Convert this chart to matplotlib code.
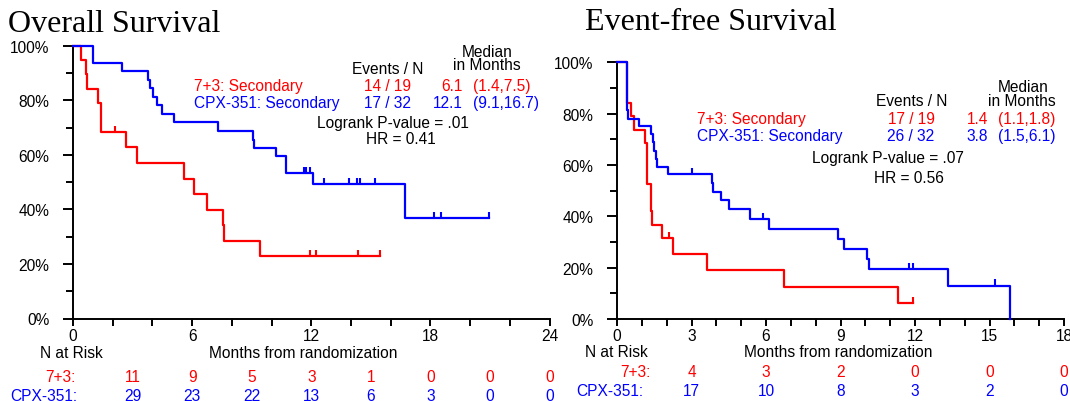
import numpy as np
import matplotlib
matplotlib.use("Agg")
import matplotlib.pyplot as plt
from matplotlib.ticker import MultipleLocator, FuncFormatter
from matplotlib.transforms import blended_transform_factory

W, H = 1070, 402
RED = "#ff0000"
BLUE = "#0000ff"

# Overall survival: step times (months) and survival (%)
os_red_t = [0, 0.40, 0.66, 0.72, 1.25, 1.41, 2.66, 3.23, 5.58, 6.07, 6.77, 7.55, 7.61, 9.40]
os_red_s = [100, 94.7, 89.5, 84.2, 78.9, 68.4, 62.7, 57.0, 51.3, 45.6, 39.9, 34.2, 28.5, 22.8]
os_red_cens = [2.12, 11.92, 12.24, 14.36, 15.48]

os_blue_t = [0, 0.99, 2.49, 3.77, 3.88, 4.02, 4.22, 4.50, 5.09, 7.31, 9.09, 9.14, 10.20, 10.72, 12.08, 16.71]
os_blue_s = [100, 93.8, 90.6, 87.5, 84.4, 81.3, 78.1, 75.0, 71.9, 68.8, 65.6, 62.5, 59.4, 53.4, 49.2, 36.9]
os_blue_cens = [11.61, 11.75, 11.92, 12.66, 13.88, 14.31, 14.47, 15.23, 18.20, 18.51, 20.94]

# Event-free survival
efs_red_t = [0, 0.39, 0.41, 0.55, 0.70, 1.13, 1.20, 1.37, 1.42, 1.80, 2.24, 3.64, 6.74, 11.30]
efs_red_s = [100, 94.7, 84.2, 78.9, 73.7, 68.4, 52.6, 42.1, 36.8, 31.6, 25.3, 18.9, 12.6, 6.3]
efs_red_cens = [2.08, 11.91]

efs_blue_t = [0, 0.40, 0.45, 0.90, 1.35, 1.46, 1.50, 1.56, 1.60, 2.04, 3.82, 3.88, 4.19, 4.51,
              5.36, 6.11, 8.89, 9.13, 10.05, 10.16, 13.33, 15.83]
efs_blue_s = [100, 81.3, 78.1, 75.0, 71.9, 68.8, 65.6, 62.5, 59.4, 56.3, 52.9, 49.6, 46.3, 43.0,
              39.0, 35.0, 31.1, 27.2, 23.3, 19.5, 13.0, 0.0]
efs_blue_cens = [3.01, 5.89, 11.76, 11.91, 15.22]

# numbers at risk
os_risk_t = [3, 6, 9, 12, 15, 18, 21, 24]
os_risk_red = [11, 9, 5, 3, 1, 0, 0, 0]
os_risk_blue = [29, 23, 22, 13, 6, 3, 0, 0]
efs_risk_t = [3, 6, 9, 12, 15, 18]
efs_risk_red = [4, 3, 2, 0, 0, 0]
efs_risk_blue = [17, 10, 8, 3, 2, 0]

arms = ["7+3: Secondary", "CPX-351: Secondary"]
os_events = ["14 / 19", "17 / 32"]
os_median = ["6.1", "12.1"]
os_ci = ["(1.4,7.5)", "(9.1,16.7)"]
efs_events = ["17 / 19", "26 / 32"]
efs_median = ["1.4", "3.8"]
efs_ci = ["(1.1,1.8)", "(1.5,6.1)"]

SANS = "Liberation Sans"
FS = 11.2

fig = plt.figure(figsize=(W / 100, H / 100), dpi=100)
fig.patch.set_facecolor("white")


def put(x, y, s, **kw):
    kw.setdefault("fontsize", FS)
    kw.setdefault("family", SANS)
    kw.setdefault("va", "center")
    fig.text(x / W, 1 - y / H, s, **kw)


def make_axes(x0, x1, ytop, ybot, xmax, major, minor):
    ax = fig.add_axes([x0 / W, 1 - ybot / H, (x1 - x0) / W, (ybot - ytop) / H])
    ax.set_xlim(0, xmax)
    ax.set_ylim(0, 100)
    for side in ("top", "right"):
        ax.spines[side].set_visible(False)
    for side in ("left", "bottom"):
        ax.spines[side].set_linewidth(1.4)
    ax.xaxis.set_major_locator(MultipleLocator(major))
    ax.xaxis.set_minor_locator(MultipleLocator(minor))
    ax.yaxis.set_major_locator(MultipleLocator(20))
    ax.yaxis.set_minor_locator(MultipleLocator(10))
    ax.yaxis.set_major_formatter(FuncFormatter(lambda v, p: "%d%%" % v))
    ax.tick_params(axis="y", which="major", length=7, width=1.4, pad=10, labelsize=FS)
    ax.tick_params(axis="y", which="minor", length=5, width=1.4)
    ax.tick_params(axis="x", which="both", length=5, width=1.4, pad=1.5, labelsize=FS)
    for lab in ax.get_xticklabels() + ax.get_yticklabels():
        lab.set_family(SANS)
    return ax


def km(ax, t, s, cens, end, color, dy):
    t = np.asarray(t, float)
    s = np.asarray(s, float)
    ax.step(np.append(t, end), np.append(s, s[-1]), where="post", color=color,
            lw=1.6, clip_on=False, zorder=3)
    idx = np.searchsorted(t, cens, side="right") - 1
    ax.vlines(cens, s[idx], s[idx] + dy, color=color, lw=1.5, zorder=3)


def risk_rows(ax, times, red, blue, y_red, y_blue):
    tr = blended_transform_factory(ax.transData, fig.transFigure)
    for t, r, b in zip(times, red, blue):
        ax.text(t, 1 - y_red / H, str(r), transform=tr, color=RED, ha="center",
                va="center", fontsize=FS, family=SANS, clip_on=False)
        ax.text(t, 1 - y_blue / H, str(b), transform=tr, color=BLUE, ha="center",
                va="center", fontsize=FS, family=SANS, clip_on=False)


# ---- left: overall survival
ax1 = make_axes(73, 549.5, 46.7, 319.5, 24, 6, 2)
km(ax1, os_red_t, os_red_s, os_red_cens, os_red_cens[-1], RED, 2.3)
km(ax1, os_blue_t, os_blue_s, os_blue_cens, os_blue_cens[-1], BLUE, 2.3)
risk_rows(ax1, os_risk_t, os_risk_red, os_risk_blue, 377.4, 396.5)

put(8, 31.5, "Overall Survival", family="Liberation Serif", fontsize=23, va="baseline")
put(387.5, 69.3, "Events / N", ha="center")
put(487.3, 52.7, "Median", ha="center")
put(487, 65.5, "in Months", ha="center")
for i, (c, y) in enumerate(zip((RED, BLUE), (86.7, 103.3))):
    put(194, y, arms[i], color=c)
    put(388, y, os_events[i], color=c, ha="center")
    put(462.5, y, os_median[i], color=c, ha="right")
    put(473, y, os_ci[i], color=c)
put(393.3, 123.3, "Logrank P-value = .01", ha="center")
put(400.7, 140, "HR = 0.41", ha="center")
put(71.4, 354, "N at Risk", ha="center")
put(303, 354, "Months from randomization", ha="center")
put(75.4, 377.4, "7+3:", color=RED, ha="right")
put(77.2, 396.5, "CPX-351:", color=BLUE, ha="right")

# ---- right: event-free survival
ax2 = make_axes(617, 1064, 63.3, 320, 18, 3, 1)
km(ax2, efs_red_t, efs_red_s, efs_red_cens, efs_red_cens[-1], RED, 2.4)
km(ax2, efs_blue_t, efs_blue_s, efs_blue_cens[:-1], efs_blue_t[-1], BLUE, 2.4)
ax2.vlines(efs_blue_cens[-1], efs_blue_s[-2], efs_blue_s[-2] + 2.4, color=BLUE, lw=1.5)
risk_rows(ax2, efs_risk_t, efs_risk_red, efs_risk_blue, 372.7, 392)

put(585, 30, "Event-free Survival", family="Liberation Serif", fontsize=23, va="baseline")
put(911.5, 101.7, "Events / N", ha="center")
put(1023.3, 87.7, "Median", ha="center")
put(1021.7, 101.7, "in Months", ha="center")
for i, (c, y) in enumerate(zip((RED, BLUE), (119.3, 136.7))):
    put(697.3, y, arms[i], color=c)
    put(911, y, efs_events[i], color=c, ha="center")
    put(988.3, y, efs_median[i], color=c, ha="right")
    put(998.3, y, efs_ci[i], color=c)
put(888.3, 158.3, "Logrank P-value = .07", ha="center")
put(909.3, 178.3, "HR = 0.56", ha="center")
put(616.8, 352.5, "N at Risk", ha="center")
put(838, 352.5, "Months from randomization", ha="center")
put(650.4, 372.7, "7+3:", color=RED, ha="right")
put(643.6, 392, "CPX-351:", color=BLUE, ha="right")

fig.savefig("out.png", dpi=100, facecolor="white")
